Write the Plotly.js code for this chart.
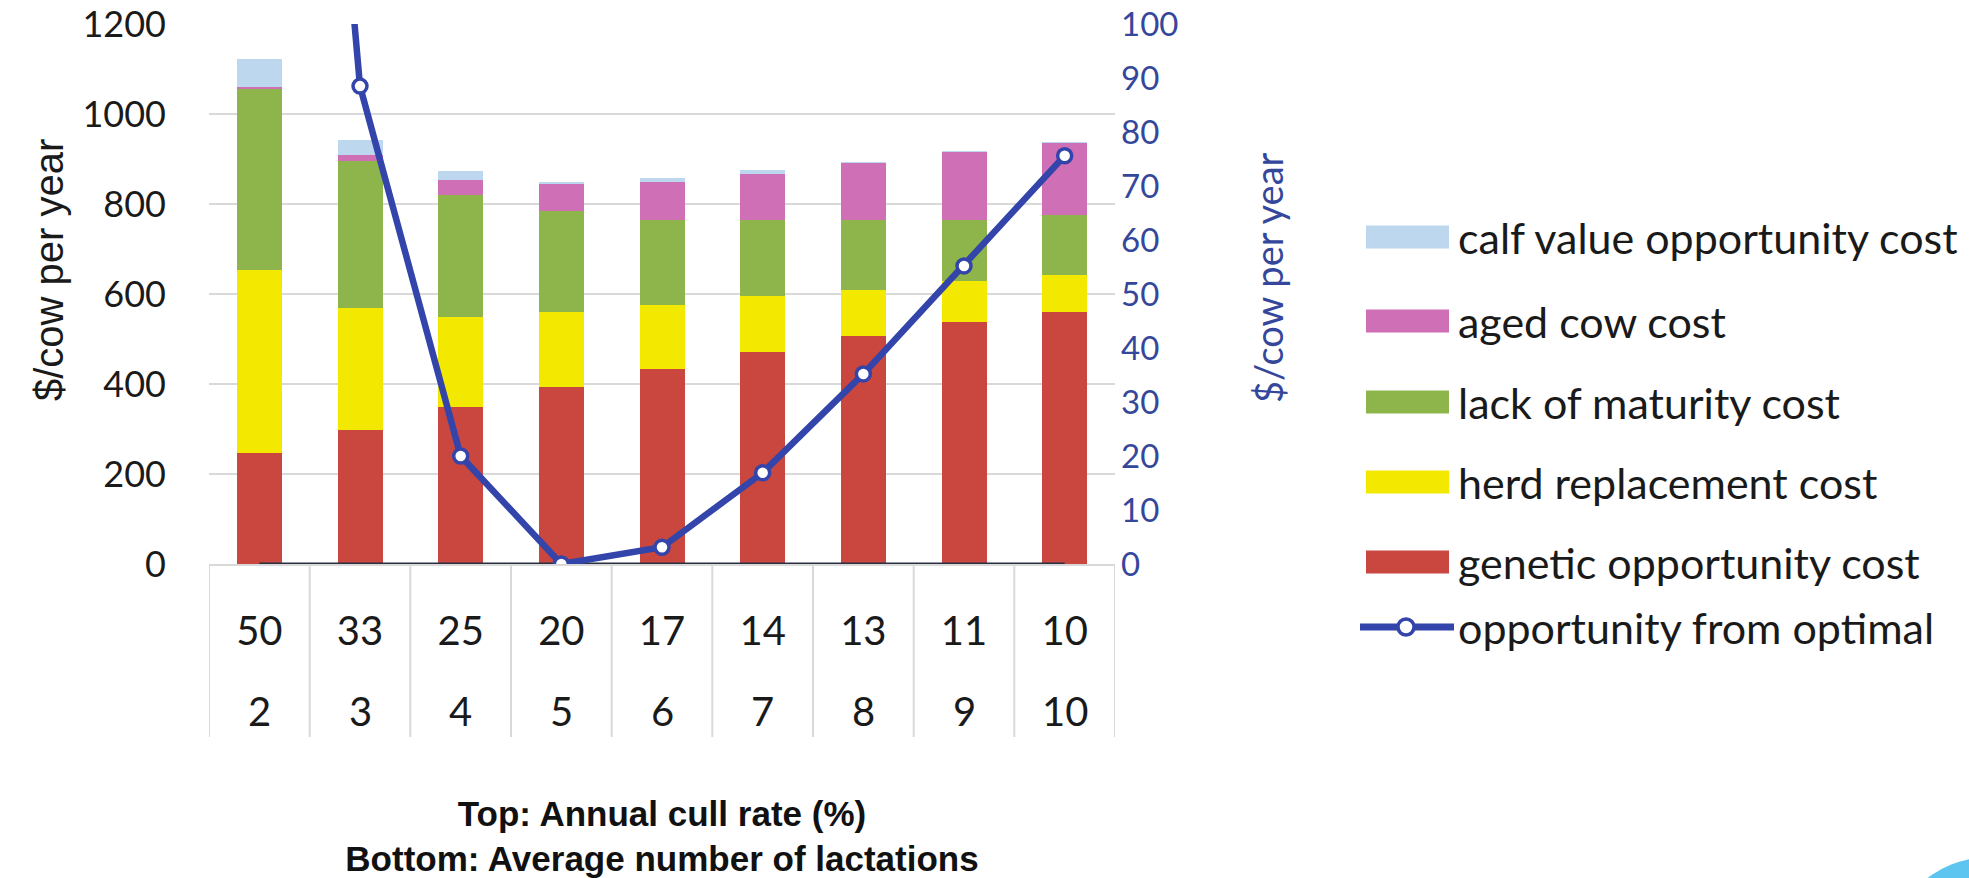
<!DOCTYPE html>
<html><head><meta charset="utf-8">
<script src="https://cdn.plot.ly/plotly-3.0.1.min.js"></script>
<style>html,body{margin:0;padding:0;background:#fff;}#chart{width:1969px;height:878px;}</style>
</head><body><div id="chart"></div>
<script>
// ---- data ----
const cullRate = ["50","33","25","20","17","14","13","11","10"];      // top row of x labels (%)
const lactations = ["2","3","4","5","6","7","8","9","10"];           // bottom row of x labels
const geneticCost = [246,298,350,394,434,471,506,538,561];
const herdReplacementCost = [408,271,200,165,142,124,103,90,82];
const lackOfMaturityCost = [402,326,271,225,189,170,155,136,133];
const agedCowCost = [5,15,33,60,85,102,127,151,160];
const calfValueCost = [62,33,19,6,8,9,2,3,2];
const opportunityFromOptimal = [300,88.5,20,0,3.1,16.9,35.2,55.2,75.6];
const baseline = [0,0,0,0,0,0,0,0,0];

const seriesNames = ["genetic opportunity cost","herd replacement cost","lack of maturity cost","aged cow cost","calf value opportunity cost"];
const seriesValues = [geneticCost, herdReplacementCost, lackOfMaturityCost, agedCowCost, calfValueCost];
const seriesColors = ["#c9473f","#f3e800","#8db54c","#cf6fb5","#bdd7ee"];
const lineName = "opportunity from optimal";
const lineColor = "#3344aa";
const yTitleLeft = "$/cow per year";
const yTitleRight = "$/cow per year";

const traces = seriesValues.map((v,i)=>({
  type:'bar', name:seriesNames[i], x:cullRate, y:v,
  marker:{color:seriesColors[i], line:{width:0}}, showlegend:false, hoverinfo:'y+name'
}));
traces.push({type:'scatter', mode:'lines', x:cullRate, y:baseline, yaxis:'y',
  line:{color:'#2b3040', width:3}, showlegend:false, hoverinfo:'skip'});
traces.push({type:'scatter', mode:'lines+markers', name:lineName, x:cullRate, y:opportunityFromOptimal, yaxis:'y2',
  line:{color:lineColor, width:6.5}, marker:{symbol:'circle', size:14, color:'#ffffff', line:{color:lineColor, width:3.5}},
  showlegend:false});

// pixel helpers (plot area in px)
const L=209, R=1115, T=24, B=564;
const px = p => (p-L)/(R-L);
const py = p => (B-p)/(B-T);

const shapes = [];
const annotations = [];

// second row of category labels (placed on the category index of the x axis) + table dividers
lactations.forEach((lab,i)=>{
  annotations.push({xref:'x', yref:'paper', x:i, y:py(711), xanchor:'center', yanchor:'middle',
    text:lab, showarrow:false, font:{family:'Lato', size:40, color:'#1a1a1a'}});
});
for(let i=0;i<=cullRate.length;i++){
  shapes.push({type:'line', xref:'x', yref:'paper', x0:i-0.5, x1:i-0.5, y0:0, y1:py(737),
    line:{color:'#d9d9d9', width:2}});
}

// y-axis titles
annotations.push({xref:'paper', yref:'paper', x:px(49), y:py(270), xanchor:'center', yanchor:'middle', textangle:-90,
  text:yTitleLeft, showarrow:false, font:{family:'Liberation Sans', size:40, color:'#1a1a1a'}});
annotations.push({xref:'paper', yref:'paper', x:px(1268), y:py(278), xanchor:'center', yanchor:'middle', textangle:-90,
  text:yTitleRight, showarrow:false, font:{family:'Lato', size:38, color:'#35479b'}});

// hand-drawn legend
const legendOrder = [4,3,2,1,0];
const rowsY = [237,321,402,482,562,627];
legendOrder.forEach((si,k)=>{
  const yc = rowsY[k];
  shapes.push({type:'rect', xref:'paper', yref:'paper', x0:px(1366), x1:px(1449), y0:py(yc-11.5), y1:py(yc+11.5),
    fillcolor:seriesColors[si], line:{width:0}});
  annotations.push({xref:'paper', yref:'paper', x:px(1456), y:py(yc), xanchor:'left', yanchor:'middle',
    text:seriesNames[si], showarrow:false, font:{family:'Lato', size:43, color:'#1a1a1a'}});
});
{
  const yc = rowsY[5];
  shapes.push({type:'line', xref:'paper', yref:'paper', x0:px(1360), x1:px(1454), y0:py(yc), y1:py(yc),
    line:{color:lineColor, width:7}});
  shapes.push({type:'circle', xref:'paper', yref:'paper', x0:px(1398), x1:px(1414), y0:py(yc-8), y1:py(yc+8),
    fillcolor:'#ffffff', line:{color:lineColor, width:3.5}});
  annotations.push({xref:'paper', yref:'paper', x:px(1456), y:py(yc), xanchor:'left', yanchor:'middle',
    text:lineName, showarrow:false, font:{family:'Lato', size:43, color:'#1a1a1a'}});
}
// decorative corner badge
shapes.push({type:'circle', xref:'paper', yref:'paper', x0:px(1887), x1:px(2093), y0:py(857), y1:py(1063),
  fillcolor:'#5ec4f0', line:{width:0}, layer:'above'});

const layout = {
  width:1969, height:878,
  margin:{l:209, r:854, t:24, b:314},
  paper_bgcolor:'#ffffff', plot_bgcolor:'#ffffff',
  font:{family:'Lato', color:'#1a1a1a'},
  barmode:'stack', bargap:0.553,
  showlegend:false,
  xaxis:{type:'category', range:[-0.5, 8.5], autorange:false, showline:true, linecolor:'#d9d9d9', linewidth:2, ticks:'',
    ticklabelstandoff:31, showgrid:false,
    tickfont:{family:'Lato', size:40, color:'#1a1a1a'},
    title:{text:'<b>Top: Annual cull rate (%)<br>Bottom: Average number of lactations</b>',
      font:{family:'Liberation Sans', size:35, color:'#111111'}, standoff:157}},
  yaxis:{range:[0,1200], dtick:200, showgrid:true, gridcolor:'#d9d9d9', gridwidth:2, zeroline:false,
    showline:false, ticks:'', ticklabelstandoff:42,
    tickfont:{family:'Lato', size:36, color:'#1a1a1a'}},
  yaxis2:{range:[0,100], dtick:10, overlaying:'y', side:'right', showgrid:false, zeroline:false,
    showline:false, ticks:'', ticklabelstandoff:5,
    tickfont:{family:'Lato', size:33, color:'#35479b'}},
  shapes:shapes, annotations:annotations
};
Plotly.newPlot('chart', traces, layout, {displayModeBar:false, staticPlot:true});
</script></body></html>
